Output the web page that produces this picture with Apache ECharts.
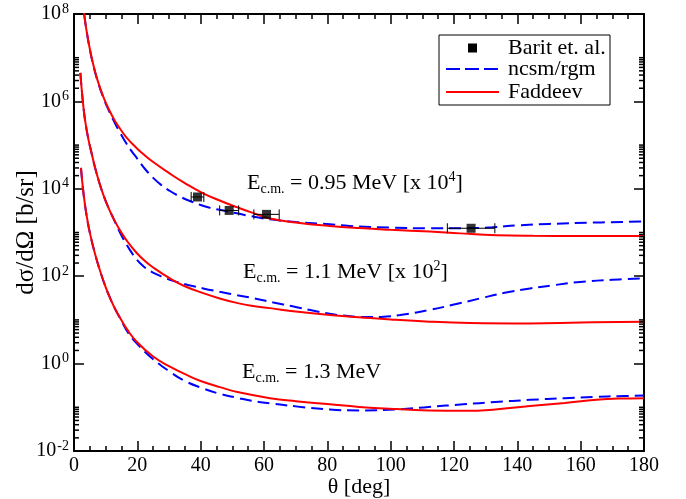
<!DOCTYPE html>
<html><head><meta charset="utf-8">
<script src="https://cdn.jsdelivr.net/npm/echarts/dist/echarts.min.js"></script>
<style>html,body{margin:0;padding:0;background:#fff}#c{width:686px;height:499px}</style>
</head><body><div id="c"></div>
<script>
const FONT = 'Liberation Serif';

// Barit et al. data (E = 0.95 MeV, x10^4)
const baritTheta = [39, 49, 60.8, 125.4];
const baritValue = [6.5e3, 3.2e3, 2.6e3, 1.25e3];
const baritThetaErr = [2, 3, 4, 7.5];

// E = 0.95 MeV [x 10^4]
const fad095Theta = [2.5,3.2,4,5,6.1,7.5,9.3,11,12.9,14.5,16.6,19.8,22.5,25,30.3,35,40.8,46,51.4,56,61.9,70,80.8,90,100,112.4,122,133.5,145,160,180];
const fad095 = [2.5e8,1e8,4.0e7,1.58e7,6.9e6,2.95e6,1.26e6,6.6e5,3.6e5,2.4e5,1.48e5,8.5e4,5.7e4,4.1e4,2.22e4,1.35e4,7.9e3,5.4e3,3.8e3,2.88e3,2.1e3,1.7e3,1.41e3,1.26e3,1.15e3,1.05e3,955,870,840,830,830];
const ncsm095Theta = [2.5,3.2,4,5,6.1,7.5,9.3,11,12.9,14.5,16.6,18,19.8,22.5,25,27.5,30.3,33,36.6,40,42.9,46,51.4,56,61.9,70,80.8,87,100,112,125,132,140,150,163,180];
const ncsm095 = [2.5e8,1e8,4.0e7,1.55e7,6.7e6,2.85e6,1.2e6,6.2e5,3.2e5,1.95e5,1.07e5,7.6e4,5.1e4,2.8e4,1.78e4,1.23e4,8.9e3,6.9e3,5.25e3,4.27e3,3.7e3,3.3e3,2.75e3,2.35e3,2.0e3,1.74e3,1.54e3,1.41e3,1.30e3,1.25e3,1.26e3,1.32e3,1.45e3,1.57e3,1.68e3,1.78e3];

// E = 1.1 MeV [x 10^2]
const fad11Theta = [2.0,2.5,3.0,3.5,4.5,5.5,6.6,8,9.3,10.8,12.4,15,17.5,19.8,22.5,25,30.3,35,40.8,46,51.4,56,61.9,70,80.8,90,100,112.4,125,144,160,180];
const fad11 = [4.5e6,1.66e6,7.2e5,3.7e5,1.41e5,6.8e4,3.16e4,1.38e4,7.2e3,3.8e3,2.14e3,980,540,340,219,158,89,59,41,31,24.5,21,18.6,15.5,12.9,11.5,10.2,9.1,8.5,8.3,8.7,9.1];
const ncsm11Theta = [2.0,2.5,3.0,3.5,4.5,5.5,6.6,8,9.3,10.8,12.4,15,17.5,19.8,22,24,26.1,29,32.4,36,40.8,46,51.4,57,63,69,75,80.8,85,92,97,103,112.4,120,128.2,136,144,152,159.8,170,180];
const ncsm11 = [4.5e6,1.66e6,7.2e5,3.7e5,1.41e5,6.8e4,3.16e4,1.38e4,7.2e3,3.8e3,2.14e3,850,417,240,166,132,110,89,74,63,52.5,44,37,31,25,20.5,16.6,13.8,12.6,11.6,11.7,12.9,17.0,22.4,31,41.7,52.5,63,74,83,89];

// E = 1.3 MeV
const fad13Theta = [2.2,3,4,5.05,6.5,8.2,10,11.4,13,15,16.6,19.8,25,30.3,35.6,40,46.1,52,61.9,70,80.8,90,101.9,112,122.9,133,144,155,165,172,180];
const fad13 = [3.0e4,7.9e3,2.4e3,955,355,135,56,31.6,17.8,9.8,6.3,3.16,1.45,0.85,0.55,0.40,0.29,0.22,0.162,0.138,0.117,0.102,0.091,0.085,0.083,0.089,0.107,0.126,0.148,0.158,0.162];
const ncsm13Theta = [2.2,3,4,5.05,6.5,8.2,10,11.4,13,15,17,19.8,25,30.3,35,40.8,46,51.4,56,61.9,70,80.8,90,101.9,112,122.9,133,144,155,165,172,180];
const ncsm13 = [3.0e4,7.9e3,2.4e3,955,355,135,56,31.6,17.6,9.5,5.2,2.9,1.26,0.65,0.40,0.27,0.204,0.166,0.141,0.123,0.105,0.089,0.085,0.089,0.102,0.117,0.132,0.148,0.162,0.174,0.18,0.186];

// Axis
const xTickStep = 20;
const yMinorTicks = [];
[-2, 0, 2, 4, 6].forEach(function (e) {
  [2,3,4,5,6,7,8,9,10].forEach(function (k) { yMinorTicks.push(k * Math.pow(10, e)); });
});
const legendLabels = ['Barit et. al.', 'ncsm/rgm', 'Faddeev'];

function pairs(t, v) { return t.map(function (x, i) { return [x, v[i]]; }); }

const RED = '#ff0000', BLUE = '#0000ff';
const chart = echarts.init(document.getElementById('c'));

function lineSeries(name, t, v, color, dashed) {
  return {
    type: 'line', name: name, data: pairs(t, v), showSymbol: false, symbol: 'none',
    smooth: 0.45, clip: true, z: dashed ? 2 : 3,
    lineStyle: { color: color, width: 2, type: dashed ? [12, 6] : 'solid' },
    itemStyle: { color: color }
  };
}

const axisLineStyle = { color: '#000', width: 2 };
const tickStyle = { color: '#000', width: 1.5 };

function xAx(pos) {
  return {
    type: 'value', min: 0, max: 180, interval: xTickStep, position: pos,
    axisLine: { show: true, onZero: false, lineStyle: axisLineStyle },
    axisTick: { show: true, inside: true, length: 10, lineStyle: tickStyle },
    minorTick: { show: true, splitNumber: 4, length: 5, lineStyle: tickStyle },
    splitLine: { show: false },
    axisLabel: { show: pos === 'bottom', color: '#000', fontFamily: FONT, fontSize: 20, margin: 5 },
    name: pos === 'bottom' ? 'θ [deg]' : '', nameLocation: 'middle', nameGap: 25, nameMoveOverlap: false,
    nameTextStyle: { color: '#000', fontFamily: FONT, fontSize: 22 }
  };
}
function yAx(pos) {
  return {
    type: 'log', logBase: 10, min: 1e-2, max: 1e8, interval: 2, position: pos,
    axisLine: { show: true, onZero: false, lineStyle: axisLineStyle },
    axisTick: { show: true, inside: true, length: 10, lineStyle: tickStyle },
    minorTick: { show: false }, splitLine: { show: false },
    axisLabel: {
      show: pos === 'left', margin: 5,
      formatter: function (v) { const e = Math.round(Math.log10(v)); return '{b|10}{s|' + e + '}'; },
      rich: {
        b: { fontFamily: FONT, fontSize: 20, color: '#000', lineHeight: 24 },
        s: { fontFamily: FONT, fontSize: 14, color: '#000', verticalAlign: 'top', lineHeight: 14, padding: [0, 0, 0, 1] }
      }
    },
    name: pos === 'left' ? 'dσ/dΩ [b/sr]' : '', nameLocation: 'middle', nameGap: 35, nameMoveOverlap: false,
    nameTextStyle: { color: '#000', fontFamily: FONT, fontSize: 25 }
  };
}

function anno(left, top, main, supText) {
  let t = '{m|E}{sub|c.m.}{m|' + main + '}';
  if (supText) t += '{sup|' + supText + '}{m|]}';
  return {
    type: 'text', left: left, top: top, z: 10,
    style: {
      text: t, fill: '#000',
      rich: {
        m: { fontFamily: FONT, fontSize: 22, lineHeight: 26, verticalAlign: 'middle', fill: '#000' },
        sub: { fontFamily: FONT, fontSize: 14, lineHeight: 11, verticalAlign: 'bottom', fill: '#000' },
        sup: { fontFamily: FONT, fontSize: 14, lineHeight: 14, verticalAlign: 'top', fill: '#000' }
      }
    }
  };
}

// legend drawn as graphic elements
const LX = 439, LY = 35, LW = 171, LH = 70;
const legendRows = [48, 69, 92];
const legendGraphic = {
  type: 'group', z: 20, children: [
    { type: 'rect', shape: { x: LX, y: LY, width: LW, height: LH }, style: { fill: '#fff', stroke: '#000', lineWidth: 1 } },
    { type: 'rect', shape: { x: 468, y: legendRows[0] - 4.5, width: 9, height: 9 }, style: { fill: '#000' } },
    { type: 'line', shape: { x1: 446, y1: legendRows[1], x2: 499, y2: legendRows[1] }, style: { stroke: BLUE, lineWidth: 2, lineDash: [14, 5] } },
    { type: 'line', shape: { x1: 446, y1: legendRows[2], x2: 499, y2: legendRows[2] }, style: { stroke: RED, lineWidth: 2 } }
  ].concat(legendLabels.map(function (s, i) {
    return { type: 'text', style: { x: 508, y: legendRows[i], text: s, fill: '#000', font: '22px "Liberation Serif"', verticalAlign: 'middle', align: 'left' } };
  }))
};

const option = {
  animation: false,
  backgroundColor: '#fff',
  grid: { left: 74, right: 42, top: 14, bottom: 48, containLabel: false, outerBoundsMode: 'none' },
  xAxis: [xAx('bottom'), xAx('top')],
  yAxis: [yAx('left'), yAx('right')],
  graphic: [
    anno(247, 170, ' = 0.95 MeV [x 10', '4'),
    anno(243, 259, ' = 1.1 MeV [x 10', '2'),
    anno(242, 361, ' = 1.3 MeV', null),
    legendGraphic
  ],
  series: [
    {
      type: 'custom', name: 'minorTicks', silent: true, z: 5,
      data: yMinorTicks.map(function (v) { return [0, v]; }),
      encode: { x: 0, y: 1 },
      renderItem: function (params, api) {
        const y = api.coord([0, api.value(1)])[1];
        const cs = params.coordSys;
        return { type: 'group', children: [
          { type: 'line', shape: { x1: cs.x, y1: y, x2: cs.x + 5, y2: y }, style: { stroke: '#000', lineWidth: 1.5 } },
          { type: 'line', shape: { x1: cs.x + cs.width - 5, y1: y, x2: cs.x + cs.width, y2: y }, style: { stroke: '#000', lineWidth: 1.5 } }
        ] };
      }
    },
    lineSeries('ncsm/rgm', ncsm095Theta, ncsm095, BLUE, true),
    lineSeries('ncsm/rgm', ncsm11Theta, ncsm11, BLUE, true),
    lineSeries('ncsm/rgm', ncsm13Theta, ncsm13, BLUE, true),
    lineSeries('Faddeev', fad095Theta, fad095, RED, false),
    lineSeries('Faddeev', fad11Theta, fad11, RED, false),
    lineSeries('Faddeev', fad13Theta, fad13, RED, false),
    {
      type: 'custom', name: 'errbar', silent: true, z: 6,
      data: baritTheta.map(function (t, i) { return [t, baritValue[i], baritThetaErr[i]]; }),
      encode: { x: 0, y: 1 },
      renderItem: function (params, api) {
        const t = api.value(0), v = api.value(1), e = api.value(2);
        const l = api.coord([t - e, v]), r = api.coord([t + e, v]);
        const st = { stroke: '#000', lineWidth: 1 };
        return { type: 'group', children: [
          { type: 'line', shape: { x1: l[0], y1: l[1], x2: r[0], y2: r[1] }, style: st },
          { type: 'line', shape: { x1: l[0], y1: l[1] - 5, x2: l[0], y2: l[1] + 5 }, style: st },
          { type: 'line', shape: { x1: r[0], y1: r[1] - 5, x2: r[0], y2: r[1] + 5 }, style: st }
        ] };
      }
    },
    {
      type: 'scatter', name: 'Barit et. al.', data: pairs(baritTheta, baritValue),
      symbol: 'rect', symbolSize: 9, z: 7, itemStyle: { color: '#000' }
    }
  ]
};
chart.setOption(option);
</script>
</body></html>
